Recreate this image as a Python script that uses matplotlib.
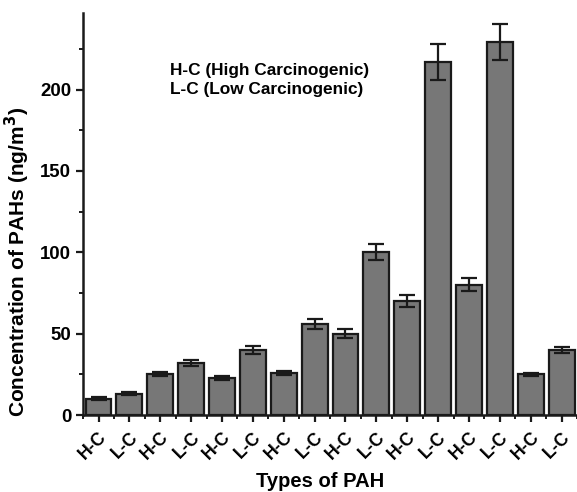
import matplotlib
matplotlib.use("Agg")
import matplotlib.pyplot as plt
import matplotlib.transforms as mtransforms
import numpy as np

plt.rcParams["font.family"] = ["Liberation Sans", "DejaVu Sans"]

categories = ["H-C", "L-C", "H-C", "L-C", "H-C", "L-C", "H-C", "L-C",
              "H-C", "L-C", "H-C", "L-C", "H-C", "L-C", "H-C", "L-C"]
concentration = [10, 13, 25, 32, 23, 40, 26, 56, 50, 100, 70, 217, 80, 229, 25, 40]
errors = [1, 1, 1.2, 1.8, 1.2, 2.5, 1.2, 3, 2.6, 5, 3.5, 11, 4, 11, 1, 2]

fig = plt.figure(figsize=(5.77, 4.92), dpi=100)
ax = fig.add_axes([0.144, 0.1565, 0.856, 0.817])

x = np.arange(len(categories))
ax.bar(x, concentration, width=0.84, color="#777777", edgecolor="#1a1a1a",
       linewidth=1.6, zorder=2)
ax.errorbar(x, concentration, yerr=errors, fmt="none", ecolor="#1a1a1a",
            elinewidth=1.6, capsize=6, capthick=1.6, zorder=3)

ax.set_xlim(-0.5, 15.5)
ax.set_ylim(0, 247)
ax.set_yticks([0, 50, 100, 150, 200])
ax.set_yticks(np.arange(25, 247, 50), minor=True)
ax.set_xticks(x)
ax.set_xticks(np.arange(-0.5, 15.6, 1), minor=True)
ax.set_xticklabels(categories, rotation=45, ha="right", va="top",
                   rotation_mode="anchor", fontsize=12.8, fontweight="bold")
shift = mtransforms.ScaledTranslation(-3 / 100, 0, fig.dpi_scale_trans)
for lab in ax.get_xticklabels():
    lab.set_transform(lab.get_transform() + shift)
for lab in ax.get_yticklabels():
    lab.set_fontsize(13.4)
    lab.set_fontweight("bold")

for side in ("top", "right"):
    ax.spines[side].set_visible(False)
for side in ("left", "bottom"):
    ax.spines[side].set_linewidth(1.8)
    ax.spines[side].set_color("#1a1a1a")

ax.tick_params(axis="both", which="major", direction="out", length=5,
               width=1.6, color="#1a1a1a")
ax.tick_params(axis="both", which="minor", direction="out", length=3,
               width=1.4, color="#1a1a1a")
ax.tick_params(axis="x", which="major", pad=5)

ax.set_ylabel("Concentration of PAHs (ng/m$^\\mathbf{3}$)", fontsize=15,
              fontweight="bold")
ax.yaxis.set_label_coords(-0.103, 0.38)
ax.set_xlabel("Types of PAH", fontsize=14.5, fontweight="bold")
ax.xaxis.set_label_coords(0.48, -0.141)

ax.text(0.176, 0.858, "H-C (High Carcinogenic)", transform=ax.transAxes,
        fontsize=12.4, fontweight="bold", va="center", ha="left")
ax.text(0.176, 0.811, "L-C (Low Carcinogenic)", transform=ax.transAxes,
        fontsize=12.4, fontweight="bold", va="center", ha="left")

fig.savefig("out.png", dpi=100)
